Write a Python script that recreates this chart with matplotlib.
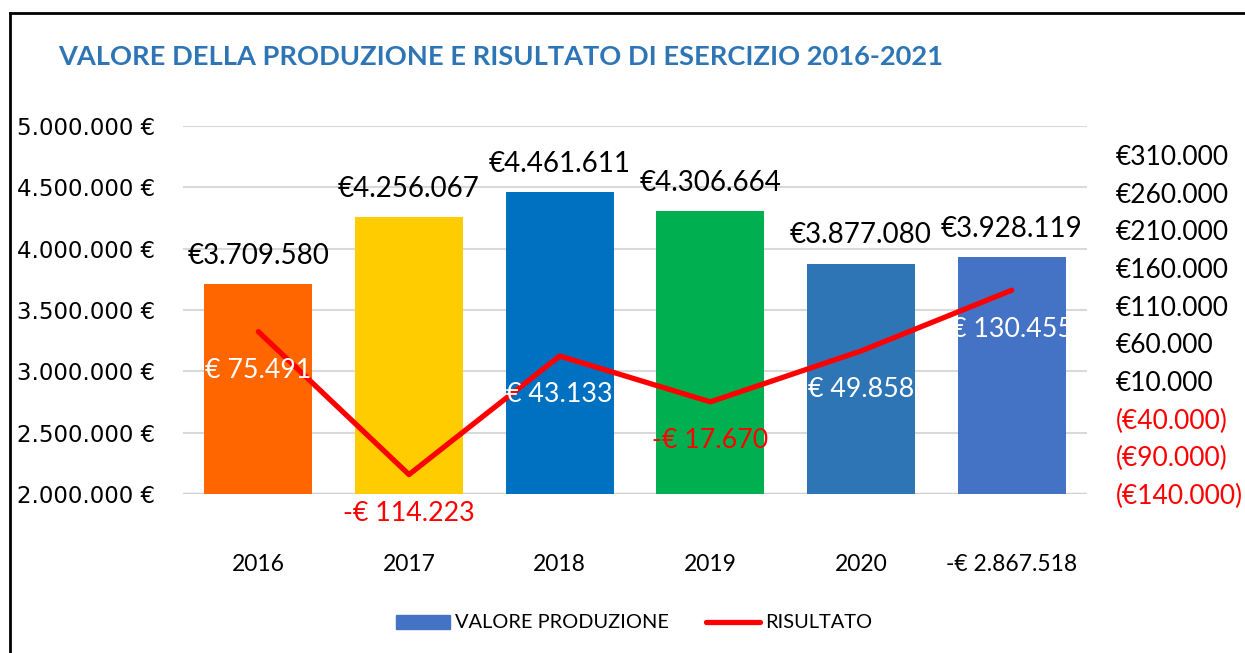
import matplotlib.pyplot as plt
import matplotlib.patches as mpatches
from matplotlib.lines import Line2D
from matplotlib.ticker import FixedLocator, FuncFormatter
import numpy as np

# --- data ---
CATEGORIES = ["2016", "2017", "2018", "2019", "2020", "-€ 2.867.518"]
VALORE_PRODUZIONE = [3709580, 4256067, 4461611, 4306664, 3877080, 3928119]
RISULTATO = [75491, -114223, 43133, -17670, 49858, 130455]
BAR_COLORS = ["#FF6600", "#FFCC00", "#0070C0", "#00B050", "#2E75B6", "#4472C4"]
LEFT_TICKS = [2000000, 2500000, 3000000, 3500000, 4000000, 4500000, 5000000]
RIGHT_TICKS = [-140000, -90000, -40000, 10000, 60000, 110000, 160000, 210000, 260000, 310000]

FONT = "Lato"


def it_num(v):
    return f"{abs(v):,.0f}".replace(",", ".")


fig = plt.figure(figsize=(12.45, 6.53), dpi=100)
ax = fig.add_axes([183 / 1245, 1 - 494 / 653, (1087 - 183) / 1245, (494 - 126) / 653])
ax2 = ax.twinx()

x = np.arange(len(CATEGORIES))

# bars
ax.bar(x, [v - 2000000 for v in VALORE_PRODUZIONE], 0.715, bottom=2000000,
       color=BAR_COLORS, zorder=2)
for xi, v in zip(x, VALORE_PRODUZIONE):
    ax.annotate("€" + it_num(v), (xi, v), xytext=(0, 11), textcoords="offset points",
                ha="center", va="bottom", fontsize=20, family=FONT, color="black")

ax.set_xlim(-0.5, len(CATEGORIES) - 0.5)
ax.set_ylim(2000000, 5000000)
ax.yaxis.set_major_locator(FixedLocator(LEFT_TICKS))
ax.yaxis.set_major_formatter(FuncFormatter(lambda v, p: it_num(v) + " €"))
ax.grid(axis="y", color="#D9D9D9", linewidth=1.5, zorder=0)
ax.set_axisbelow(True)
for s in ax.spines.values():
    s.set_visible(False)
ax.tick_params(axis="y", length=0, pad=20, labelsize=16.5, labelcolor="black")
ax.tick_params(axis="x", length=0, pad=43)
ax.set_xticks(x)
ax.set_xticklabels(CATEGORIES, fontsize=16.5, family=FONT)
ax.axhline(2000000, color="#D0D0D0", linewidth=2.5, zorder=1)

# line
ax2.plot(x, RISULTATO, color="#FF0000", linewidth=3.8, solid_capstyle="round", zorder=3)
for xi, v in zip(x, RISULTATO):
    if v < 0:
        txt, col = "-€ " + it_num(v), "#FF0000"
    else:
        txt, col = "€ " + it_num(v), "white"
    ax2.annotate(txt, (xi, v), xytext=(0, -28), textcoords="offset points",
                 ha="center", va="center", fontsize=19.3, family=FONT, color=col,
                 clip_on=False)

ax2.set_ylim(-140000, 348500)
ax2.yaxis.set_major_locator(FixedLocator(RIGHT_TICKS))
ax2.yaxis.set_major_formatter(
    FuncFormatter(lambda v, p: f"(€{it_num(v)})" if v < 0 else f"€{it_num(v)}"))
for s in ax2.spines.values():
    s.set_visible(False)
ax2.tick_params(axis="y", length=0, pad=21, labelsize=19)
for lab, t in zip(ax2.get_yticklabels(), RIGHT_TICKS):
    lab.set_family(FONT)
    lab.set_color("#FF0000" if t < 0 else "black")

# title
fig.text(58 / 1245, 1 - 57 / 653, "VALORE DELLA PRODUZIONE E RISULTATO DI ESERCIZIO 2016-2021",
         ha="left", va="center", fontsize=19.6, fontweight="bold", family=FONT, color="#2E75B6")

# legend
handles = [mpatches.Patch(color="#4472C4", label="VALORE PRODUZIONE"),
           Line2D([0], [0], color="#FF0000", linewidth=3.8, solid_capstyle="round",
                  label="RISULTATO")]
fig.legend(handles=handles, loc="center", bbox_to_anchor=(0.5 + 12 / 1245, 1 - 623 / 653), ncol=2,
           frameon=False, prop={"family": FONT, "size": 14.4}, handlelength=2.7,
           handletextpad=0.25, columnspacing=1.85)

# outer border (left and top visible)
fig.add_artist(Line2D([10 / 1245, 10 / 1245], [0, 1 - 13 / 653], color="black", linewidth=2,
                      transform=fig.transFigure))
fig.add_artist(Line2D([10 / 1245, 1], [1 - 13 / 653, 1 - 13 / 653], color="black", linewidth=2,
                      transform=fig.transFigure))

plt.savefig("out.png", dpi=100)
